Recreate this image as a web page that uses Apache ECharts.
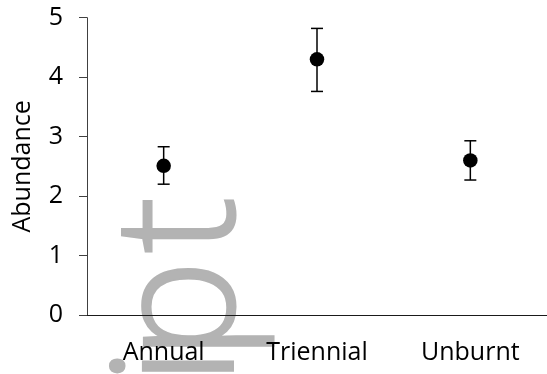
<!DOCTYPE html>
<html>
<head>
<meta charset="utf-8">
<script src="https://cdn.jsdelivr.net/npm/echarts@6/dist/echarts.min.js"></script>
<style>
  html, body { margin: 0; padding: 0; background: #fff; }
  #chart { width: 547px; height: 374px; }
</style>
</head>
<body>
<div id="chart"></div>
<script>
// Fire-regime groups and mean abundance with error range
const categories = ['Annual', 'Triennial', 'Unburnt'];
const meanValues = [2.51, 4.30, 2.60];
const lowerValues = [2.20, 3.76, 2.27];
const upperValues = [2.83, 4.82, 2.93];
const yTicks = [0, 1, 2, 3, 4, 5];

const FONT = '"Open Sans", "Noto Sans", sans-serif';
const AXIS_COLOR = '#404040';

// Large grey backdrop lettering, set vertically behind the plot
const stampLetters = ['i', 'p', 't'];
const stampOffsets = [385, 360, 253];
const STAMP_FONT = '300 168px "Open Sans", sans-serif';
const STAMP_GREY = '#b3b3b3';

const chart = echarts.init(document.getElementById('chart'), null, { renderer: 'canvas' });

const errorData = categories.map((c, i) => [i, lowerValues[i], upperValues[i]]);

chart.setOption({
  animation: false,
  backgroundColor: '#ffffff',
  grid: { left: 87, right: -3, top: 17.7, bottom: 59, containLabel: false },
  graphic: stampLetters.map((ch, k) => ({
    type: 'text',
    z: -10,
    silent: true,
    x: 269,
    y: stampOffsets[k],
    rotation: Math.PI / 2,
    style: {
      text: ch,
      font: STAMP_FONT,
      fill: STAMP_GREY,
      stroke: STAMP_GREY,
      lineWidth: 3,
      textAlign: 'left',
      textVerticalAlign: 'bottom'
    }
  })),
  xAxis: {
    type: 'category',
    data: categories,
    boundaryGap: true,
    axisLine: { show: true, lineStyle: { color: '#1a1a1a', width: 1 } },
    axisTick: { show: false },
    axisLabel: { color: '#000', fontFamily: FONT, fontSize: 25, margin: 25 },
    splitLine: { show: false }
  },
  yAxis: {
    type: 'value',
    min: yTicks[0],
    max: yTicks[yTicks.length - 1],
    interval: 1,
    name: 'Abundance',
    nameLocation: 'middle',
    nameGap: 52,
    nameRotate: 90,
    nameTextStyle: { color: '#000', fontFamily: FONT, fontSize: 25 },
    axisLine: { show: true, lineStyle: { color: AXIS_COLOR, width: 1 } },
    axisTick: { show: true, inside: false, length: 8, lineStyle: { color: AXIS_COLOR } },
    axisLabel: { color: '#000', fontFamily: FONT, fontSize: 25, margin: 24 },
    splitLine: { show: false }
  },
  series: [
    {
      type: 'custom',
      z: 2,
      renderItem: function (params, api) {
        const x = api.value(0);
        const lo = api.coord([x, api.value(1)]);
        const hi = api.coord([x, api.value(2)]);
        const half = 6;
        const style = { stroke: '#000', lineWidth: 1.5, fill: null };
        return {
          type: 'group',
          children: [
            { type: 'line', shape: { x1: hi[0], y1: hi[1], x2: lo[0], y2: lo[1] }, style: style },
            { type: 'line', shape: { x1: hi[0] - half, y1: hi[1], x2: hi[0] + half, y2: hi[1] }, style: style },
            { type: 'line', shape: { x1: lo[0] - half, y1: lo[1], x2: lo[0] + half, y2: lo[1] }, style: style }
          ]
        };
      },
      encode: { x: 0, y: [1, 2] },
      data: errorData
    },
    {
      type: 'scatter',
      z: 3,
      symbol: 'circle',
      symbolSize: 14.5,
      itemStyle: { color: '#000', opacity: 1 },
      data: meanValues
    }
  ]
});
</script>
</body>
</html>
